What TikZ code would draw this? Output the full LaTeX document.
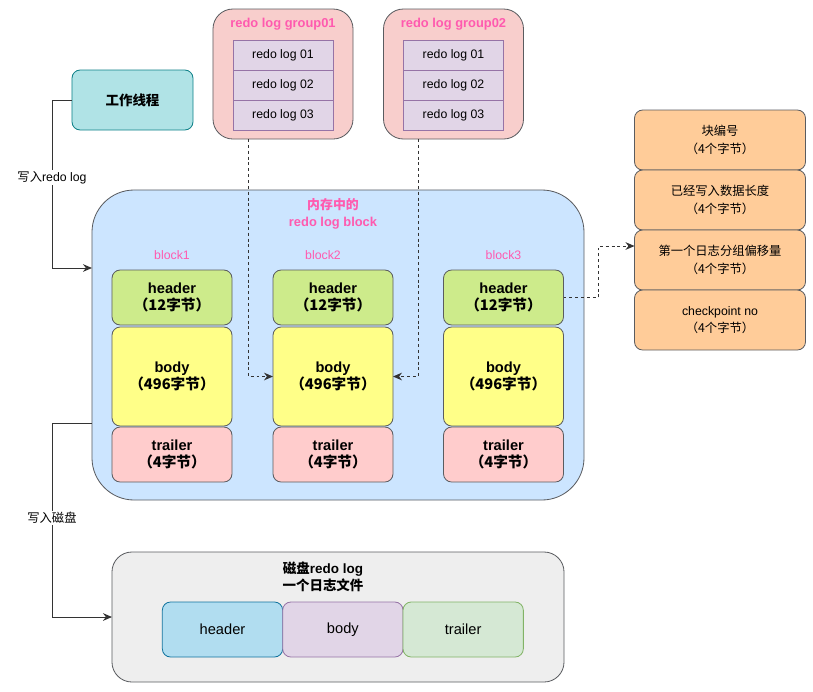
\documentclass[tikz,border=0pt]{standalone}
\usepackage{fontspec}
\setmainfont{Liberation Sans}
\newfontfamily\cjk{Noto Sans CJK SC}
\usetikzlibrary{arrows.meta,positioning,calc}
\definecolor{linegray}{HTML}{5A5C60}
\definecolor{titlepink}{HTML}{FF5AAF}
\definecolor{tealfill}{HTML}{B0E3E6}\definecolor{tealline}{HTML}{0E8088}
\definecolor{groupfill}{HTML}{F8CECC}
\definecolor{logfill}{HTML}{E1D5E7}\definecolor{logline}{HTML}{9673A6}
\definecolor{memfill}{HTML}{CCE5FF}
\definecolor{headfill}{HTML}{CDEB8B}\definecolor{bodyfill}{HTML}{FFFF88}\definecolor{trailfill}{HTML}{FFCCCC}
\definecolor{fieldfill}{HTML}{FFCC99}
\definecolor{diskfill}{HTML}{EEEEEE}
\definecolor{dheadfill}{HTML}{B1DDF0}\definecolor{dheadline}{HTML}{10739E}
\definecolor{dtrailfill}{HTML}{D5E8D4}\definecolor{dtrailline}{HTML}{82B366}
\newcommand{\zh}[1]{{\cjk #1}}
\tikzset{
box/.style={draw=linegray,line width=.7pt,inner sep=0pt,outer sep=0pt,align=center,font=\fontsize{10.5}{14}\selectfont},
worker/.style={box,fill=tealfill,draw=tealline,rounded corners=7pt,minimum width=3.63cm,minimum height=1.8cm,font=\fontsize{11.5}{14}\selectfont\bfseries},
group/.style={box,fill=groupfill,rounded corners=17pt,minimum width=4.2cm,minimum height=3.9cm},
logitem/.style={box,fill=logfill,draw=logline,minimum width=3cm,minimum height=.9cm},
memblock/.style={box,fill=memfill,rounded corners=36pt,minimum width=14.76cm,minimum height=9.3cm},
part/.style={box,rounded corners=7pt,minimum width=3.6cm,font=\fontsize{12.5}{15}\selectfont\bfseries},
header/.style={part,fill=headfill,minimum height=1.65cm},
body/.style={part,fill=bodyfill,minimum height=2.97cm},
trailer/.style={part,fill=trailfill,minimum height=1.65cm},
field/.style={box,fill=fieldfill,rounded corners=7pt,minimum width=5.13cm,minimum height=1.8cm,font=\fontsize{10.5}{15}\selectfont},
disk/.style={box,fill=diskfill,rounded corners=17pt,minimum width=13.56cm,minimum height=3.9cm},
diskpart/.style={box,rounded corners=7pt,minimum width=3.61cm,minimum height=1.65cm,font=\fontsize{12.5}{15}\selectfont},
pinktitle/.style={text=titlepink,align=center,font=\fontsize{11}{14}\selectfont\bfseries},
pinklabel/.style={text=titlepink,font=\fontsize{10.5}{14}\selectfont},
edgelabel/.style={fill=white,inner sep=1pt,font=\fontsize{10.5}{14}\selectfont},
flow/.style={-{Stealth[length=2.7mm,width=2.3mm]},line width=.8pt,draw=black!80},
dflow/.style={flow,dash pattern=on 2.5pt off 2.5pt}
}

\begin{document}
\begin{tikzpicture}[x=.03cm,y=-.03cm,node distance=0pt]
\useasboundingbox (0,0) rectangle (813,691);
% write thread
\node[worker](work) at (132.5,100){\zh{工作线程}};
% redo log groups
\node[group](g1) at (283,74){};
\node[pinktitle] at (283,24){redo log group01};
\node[logitem](l11) at (283,55){redo log 01};
\node[logitem,below=of l11](l12){redo log 02};
\node[logitem,below=of l12](l13){redo log 03};
\node[group](g2) at (453.5,74){};
\node[pinktitle] at (453.5,24){redo log group02};
\node[logitem](l21) at (453.5,55){redo log 01};
\node[logitem,below=of l21](l22){redo log 02};
\node[logitem,below=of l22](l23){redo log 03};
% redo log block in memory
\node[memblock](mem) at (338,345){};
\node[pinktitle](memtitle) at (333,214){\zh{内存中的}\\redo log block};
\node[pinklabel](lb1) at (172,255){block1};
\node[pinklabel](lb2) at (323,255){block2};
\node[pinklabel](lb3) at (503.5,255){block3};
\node[header](h1) at (172,297.5){header\\\zh{（12字节）}};
\node[body,below=.06cm of h1](bd1){body\\\zh{（496字节）}};
\node[trailer,below=.03cm of bd1](t1){trailer\\\zh{（4字节）}};
\node[header](h2) at (333,297.5){header\\\zh{（12字节）}};
\node[body,below=.06cm of h2](bd2){body\\\zh{（496字节）}};
\node[trailer,below=.03cm of bd2](t2){trailer\\\zh{（4字节）}};
\node[header](h3) at (503.5,297.5){header\\\zh{（12字节）}};
\node[body,below=.06cm of h3](bd3){body\\\zh{（496字节）}};
\node[trailer,below=.03cm of bd3](t3){trailer\\\zh{（4字节）}};
% header fields
\node[field](f1) at (720,140){\zh{块编号}\\\zh{（4个字节）}};
\node[field,below=of f1](f2){\zh{已经写入数据长度}\\\zh{（4个字节）}};
\node[field,below=of f2](f3){\zh{第一个日志分组偏移量}\\\zh{（4个字节）}};
\node[field,below=of f3](f4){checkpoint no\\\zh{（4个字节）}};
% disk file
\node[disk](dsk) at (338,617){};
\node[align=center,font=\fontsize{11.5}{15}\selectfont\bfseries](dsktitle) at (323,577){\zh{磁盘}redo log\\\zh{一个日志文件}};
\node[diskpart,fill=dheadfill,draw=dheadline](dh) at (222.5,629.5){header};
\node[diskpart,fill=logfill,draw=logline,right=of dh](dbd){body};
\node[diskpart,fill=dtrailfill,draw=dtrailline,right=of dbd](dtr){trailer};
% connectors
\draw[flow](work.west)--++(-20,0)|-([yshift=2.31cm]mem.west) node[edgelabel,pos=.23]{\zh{写入}redo log};
\draw[flow]([yshift=-2.34cm]mem.west)--++(-40,0)|-(dsk.west) node[edgelabel,pos=.245]{\zh{写入磁盘}};
\draw[dflow]([xshift=-1.05cm]g1.south)|-(bd2.west);
\draw[dflow]([xshift=-1.05cm]g2.south)|-(bd2.east);
\draw[dflow](h3.east)--++(35,0)|-([yshift=.42cm]f3.west);
\end{tikzpicture}
\end{document}
